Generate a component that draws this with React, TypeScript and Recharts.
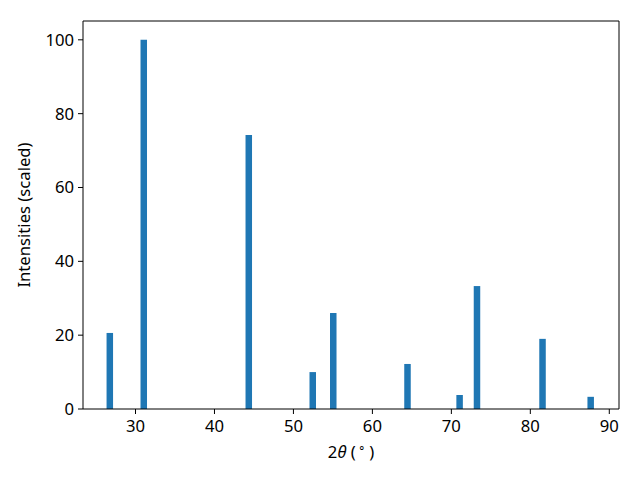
import { Bar, BarChart, Label, ReferenceLine, XAxis, YAxis } from "recharts";

// peak positions (2θ, degrees) and scaled intensities
const peakAngles = [26.8, 31.1, 44.4, 52.5, 55.1, 64.5, 71.1, 73.3, 81.6, 87.7];
const peakIntensities = [20.6, 100, 74.2, 10.0, 26.0, 12.2, 3.8, 33.3, 19.0, 3.3];

const xTicks = [30, 40, 50, 60, 70, 80, 90];
const yTicks = [0, 20, 40, 60, 80, 100];
const xDomain: [number, number] = [23.35, 91.23];
const yDomain: [number, number] = [0, 105.1];

const data = peakAngles.map((angle, i) => ({
  angle,
  intensity: peakIntensities[i],
}));

const font = "'Noto Sans', 'Open Sans', sans-serif";
const fontSize = 16.67;
const tickStyle = { fill: "#000", fontSize, fontFamily: font };

export default function App() {
  return (
    <div style={{ position: "absolute", left: 0, top: 0, background: "#fff" }}>
      <BarChart
        width={640}
        height={480}
        data={data}
        margin={{ top: 21, right: 21, bottom: 0, left: 0 }}
      >
        <XAxis
          dataKey="angle"
          type="number"
          domain={xDomain}
          ticks={xTicks}
          allowDataOverflow
          stroke="#000"
          tick={tickStyle}
          tickSize={5}
          tickMargin={6}
          height={71}
        >
          <Label
            content={({ viewBox }: any) => (
              <text
                x={viewBox.x + viewBox.width / 2}
                y={458}
                textAnchor="middle"
                fontSize={fontSize}
                fontFamily={font}
                fill="#000"
              >
                2<tspan fontStyle="italic">θ</tspan> ({"\u2009"}
                <tspan fontSize={11.7} dy={-6}>∘</tspan>
                <tspan dy={6}>{"\u2009"})</tspan>
              </text>
            )}
          />
        </XAxis>
        <YAxis
          type="number"
          domain={yDomain}
          ticks={yTicks}
          allowDataOverflow
          stroke="#000"
          tick={tickStyle}
          tickSize={5}
          tickMargin={4}
          width={83}
        >
          <Label
            content={({ viewBox }: any) => (
              <text
                x={30}
                y={viewBox.y + viewBox.height / 2}
                transform={`rotate(-90, 30, ${viewBox.y + viewBox.height / 2})`}
                textAnchor="middle"
                fontSize={fontSize}
                fontFamily={font}
                fill="#000"
              >
                Intensities (scaled)
              </text>
            )}
          />
        </YAxis>
        <ReferenceLine y={yDomain[1]} stroke="#000" ifOverflow="visible" />
        <ReferenceLine x={xDomain[1]} stroke="#000" ifOverflow="visible" />
        <Bar
          dataKey="intensity"
          fill="#1f77b4"
          barSize={6.5}
          isAnimationActive={false}
        />
      </BarChart>
    </div>
  );
}
